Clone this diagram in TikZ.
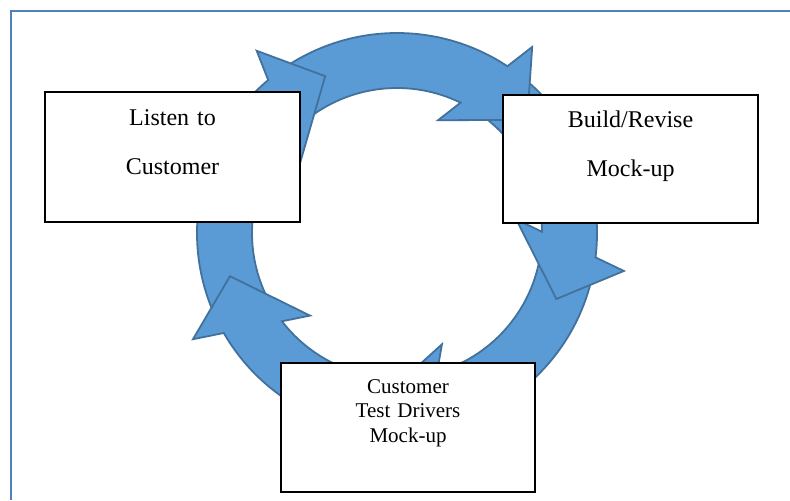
\documentclass[tikz,border=0pt]{standalone}
\usepackage{fontspec}
\setmainfont{Liberation Serif}
\usepackage{tikz}

\definecolor{ringblue}{RGB}{91,155,213}
\definecolor{ringedge}{RGB}{65,113,156}
\definecolor{framecol}{RGB}{79,129,189}

% #1 = tail angle, #2 = tip angle (arrow runs clockwise)
\newcommand{\cyclearrow}[2]{%
  \filldraw[ring arrow] (#1:200)
    arc[start angle=#1, end angle={#2+15.5}, radius=200]
    -- ({#2+13}:230) -- (#2:172.5) -- ({#2+29}:120) -- ({#2+23}:145)
    arc[start angle={#2+23}, end angle=#1, radius=145] -- cycle;}

\begin{document}
\begin{tikzpicture}[x=0.5pt, y=0.5pt,
    ring arrow/.style={fill=ringblue, draw=ringedge, line width=0.9pt},
    stage/.style={draw, fill=white, line width=1pt, text width=127.5pt,
      inner xsep=0pt, align=center, text height=0pt}]
  \useasboundingbox (0,0) rectangle (790,500);
  \draw[framecol, line width=1.3pt] (11,0) -- (11,489) -- (790,489);

  % five arrows round the ring, each head over the next tail
  \begin{scope}[shift={(397,267)}]
    \cyclearrow{-10}{-97}
    \cyclearrow{53.5}{-22.5}
    \cyclearrow{127.1}{41}
    \cyclearrow{207}{114.6}
    \cyclearrow{275.5}{194.5}
  \end{scope}

  \node[stage, minimum height=65pt, text depth=32pt,
    font=\fontsize{12}{24.5}\selectfont] (listen) at (172.5,343) {Listen to\\Customer};
  \node[stage, minimum height=64pt, text depth=32pt,
    font=\fontsize{12}{24.5}\selectfont] (build) at (630.5,341) {Build/Revise\\Mock-up};
  \node[stage, minimum height=64.5pt, text depth=34.5pt, text width=127pt,
    font=\fontsize{10.5}{12.25}\selectfont] (test) at (408,72.5) {Customer\\Test Drivers\\Mock-up};
\end{tikzpicture}
\end{document}
